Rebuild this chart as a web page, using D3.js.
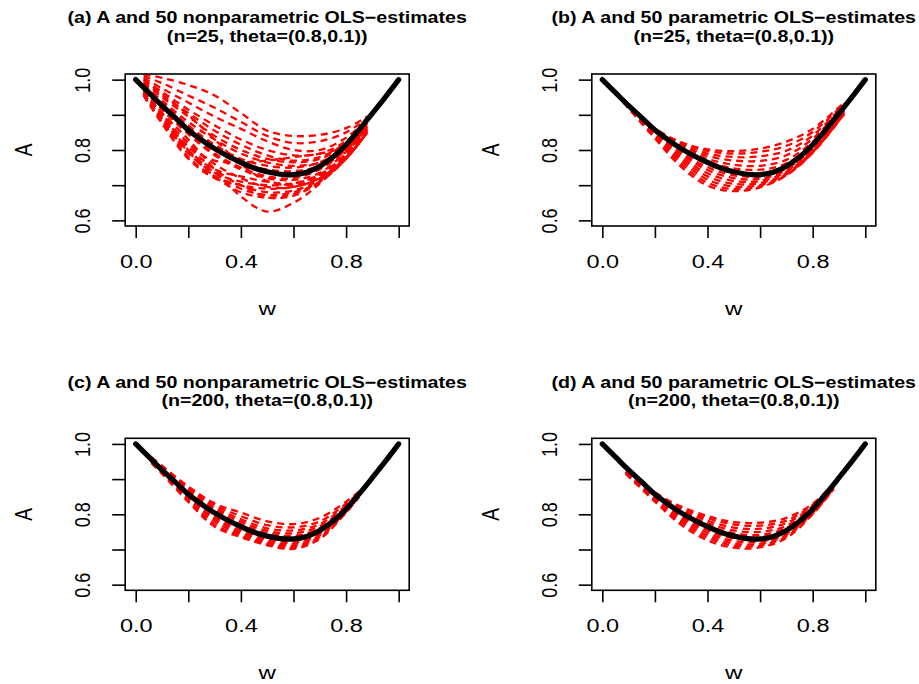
<!DOCTYPE html>
<html><head><meta charset="utf-8">
<script src="https://cdn.jsdelivr.net/npm/d3@7"></script>
<style>
body{margin:0;background:#fff}
svg{display:block}
text{font-family:"Liberation Sans",Arial,Helvetica,sans-serif;fill:#000}
</style>
</head><body>
<svg id="chart" width="919" height="684"></svg>
<script>
// ---------- data ----------
const titleLine1 = [
  "(a) A and 50 nonparametric OLS\u2212estimates",
  "(b) A and 50 parametric OLS\u2212estimates",
  "(c) A and 50 nonparametric OLS\u2212estimates",
  "(d) A and 50 parametric OLS\u2212estimates"
];
const titleLine2 = [
  "(n=25, theta=(0.8,0.1))",
  "(n=25, theta=(0.8,0.1))",
  "(n=200, theta=(0.8,0.1))",
  "(n=200, theta=(0.8,0.1))"
];
const xTicks = [0, 0.2, 0.4, 0.6, 0.8, 1.0];
const xTickLabels = ["0.0", "", "0.4", "", "0.8", ""];
const yTicks = [0.6, 0.7, 0.8, 0.9, 1.0];
const yTickLabels = ["0.6", "", "0.8", "", "1.0"];

// true A(w)
const wTrue = [0,0.05,0.1,0.15,0.2,0.25,0.3,0.35,0.4,0.45,0.5,0.55,0.6,0.65,0.7,0.75,0.8,0.85,0.9,0.95,1.0];
const aTrue = [1.0,0.963,0.926,0.892,0.857,0.829,0.804,0.783,0.765,0.749,0.738,0.731,0.730,0.737,0.754,0.780,0.815,0.858,0.904,0.951,1.0];

// (a) nonparametric, n=25
const wGridA = [0.03,0.1,0.2,0.3,0.4,0.5,0.6,0.7,0.8,0.88];
const curvesA = [
  [1.015,1.005,0.985,0.955,0.905,0.855,0.840,0.843,0.862,0.895],
  [1.010,0.990,0.955,0.920,0.880,0.840,0.820,0.825,0.850,0.890],
  [1.005,0.975,0.935,0.895,0.860,0.825,0.800,0.800,0.835,0.885],
  [1.000,0.960,0.900,0.830,0.760,0.712,0.700,0.725,0.785,0.860],
  [1.000,0.965,0.915,0.870,0.830,0.800,0.785,0.790,0.825,0.880],
  [0.995,0.955,0.905,0.855,0.815,0.785,0.770,0.780,0.820,0.875],
  [0.990,0.950,0.895,0.840,0.800,0.775,0.765,0.775,0.815,0.870],
  [0.985,0.940,0.880,0.830,0.790,0.765,0.755,0.765,0.810,0.870],
  [0.985,0.935,0.870,0.815,0.775,0.755,0.750,0.765,0.810,0.870],
  [0.980,0.930,0.865,0.805,0.765,0.745,0.740,0.755,0.805,0.865],
  [0.980,0.925,0.855,0.800,0.760,0.735,0.730,0.750,0.800,0.865],
  [0.960,0.890,0.810,0.770,0.765,0.770,0.780,0.790,0.810,0.860],
  [0.975,0.920,0.850,0.790,0.750,0.725,0.720,0.745,0.800,0.860],
  [0.975,0.915,0.845,0.785,0.745,0.720,0.715,0.735,0.795,0.860],
  [0.970,0.905,0.800,0.745,0.725,0.710,0.705,0.730,0.790,0.860],
  [0.965,0.895,0.790,0.735,0.710,0.700,0.705,0.730,0.785,0.855],
  [0.965,0.900,0.820,0.760,0.720,0.695,0.695,0.720,0.780,0.855],
  [0.960,0.885,0.780,0.725,0.700,0.690,0.695,0.720,0.780,0.850],
  [0.960,0.890,0.810,0.745,0.700,0.680,0.685,0.715,0.775,0.850],
  [0.960,0.885,0.800,0.735,0.690,0.672,0.680,0.710,0.775,0.850],
  [0.955,0.880,0.795,0.725,0.680,0.665,0.675,0.710,0.775,0.850],
  [0.955,0.875,0.775,0.720,0.700,0.665,0.670,0.710,0.775,0.850],
  [0.965,0.905,0.830,0.745,0.668,0.625,0.650,0.705,0.780,0.850]
];

// (b) parametric, n=25
const wGridB = [0.08,0.2,0.3,0.4,0.5,0.6,0.7,0.8,0.92];
const curvesB = [
  [0.935,0.833,0.752,0.699,0.683,0.694,0.728,0.793,0.905],
  [0.936,0.838,0.760,0.707,0.689,0.697,0.729,0.792,0.903],
  [0.937,0.842,0.768,0.716,0.696,0.701,0.731,0.793,0.903],
  [0.938,0.845,0.775,0.725,0.704,0.706,0.734,0.795,0.904],
  [0.939,0.848,0.781,0.734,0.712,0.712,0.738,0.797,0.905],
  [0.940,0.851,0.788,0.743,0.720,0.718,0.742,0.800,0.907],
  [0.941,0.853,0.793,0.751,0.728,0.725,0.747,0.804,0.910],
  [0.942,0.855,0.798,0.759,0.738,0.734,0.754,0.810,0.913],
  [0.942,0.857,0.803,0.767,0.748,0.744,0.762,0.816,0.917],
  [0.943,0.858,0.807,0.775,0.758,0.755,0.772,0.823,0.921],
  [0.944,0.859,0.811,0.783,0.770,0.769,0.785,0.832,0.925],
  [0.944,0.860,0.815,0.790,0.780,0.782,0.798,0.841,0.929],
  [0.945,0.861,0.819,0.797,0.790,0.795,0.812,0.851,0.932],
  [0.945,0.862,0.822,0.802,0.797,0.804,0.824,0.860,0.935]
];

// (c) nonparametric, n=200
const wGridC = [0.06,0.1,0.2,0.3,0.4,0.5,0.6,0.7,0.8,0.85];
const curvesC = [
  [0.945,0.915,0.835,0.765,0.735,0.712,0.702,0.730,0.805,0.850],
  [0.948,0.918,0.840,0.772,0.738,0.715,0.706,0.733,0.806,0.851],
  [0.950,0.920,0.845,0.780,0.742,0.718,0.710,0.736,0.807,0.852],
  [0.952,0.922,0.850,0.786,0.748,0.722,0.715,0.740,0.808,0.853],
  [0.953,0.924,0.853,0.792,0.753,0.727,0.720,0.744,0.810,0.854],
  [0.955,0.926,0.857,0.798,0.760,0.733,0.726,0.749,0.812,0.855],
  [0.956,0.928,0.860,0.803,0.766,0.739,0.732,0.754,0.815,0.856],
  [0.957,0.930,0.864,0.808,0.772,0.746,0.739,0.760,0.818,0.857],
  [0.958,0.932,0.868,0.814,0.779,0.753,0.746,0.766,0.821,0.858],
  [0.960,0.934,0.872,0.820,0.786,0.760,0.754,0.772,0.825,0.860],
  [0.961,0.936,0.876,0.826,0.795,0.769,0.763,0.780,0.830,0.862],
  [0.962,0.938,0.879,0.831,0.805,0.780,0.772,0.790,0.836,0.865]
];

// (d) parametric, n=200
const wGridD = [0.09,0.2,0.3,0.4,0.5,0.6,0.7,0.8,0.88];
const curvesD = [
  [0.915,0.836,0.770,0.726,0.705,0.706,0.733,0.800,0.872],
  [0.916,0.840,0.777,0.733,0.711,0.711,0.737,0.802,0.873],
  [0.917,0.843,0.783,0.740,0.717,0.716,0.741,0.804,0.874],
  [0.918,0.846,0.789,0.747,0.724,0.722,0.745,0.806,0.876],
  [0.918,0.849,0.794,0.754,0.731,0.728,0.750,0.809,0.877],
  [0.919,0.851,0.799,0.761,0.738,0.735,0.755,0.812,0.879],
  [0.920,0.854,0.804,0.768,0.746,0.742,0.761,0.815,0.881],
  [0.920,0.856,0.809,0.775,0.754,0.750,0.767,0.819,0.883],
  [0.921,0.858,0.814,0.782,0.762,0.759,0.775,0.823,0.885],
  [0.921,0.860,0.818,0.789,0.771,0.768,0.782,0.827,0.887],
  [0.922,0.862,0.822,0.795,0.778,0.776,0.790,0.830,0.888]
];

// ---------- drawing ----------
const panels = [
  {grid: wGridA, curves: curvesA, col: 0, row: 0},
  {grid: wGridB, curves: curvesB, col: 1, row: 0},
  {grid: wGridC, curves: curvesC, col: 0, row: 1},
  {grid: wGridD, curves: curvesD, col: 1, row: 1}
];

const SX = 1.27;             // horizontal stretch of the text
const svg = d3.select("#chart");
svg.append("rect").attr("width", 919).attr("height", 684).attr("fill", "#fff");

panels.forEach((p, i) => {
  const ox = p.col * 466.6, oy = p.row * 364.3;
  const left = 125.2 + ox, right = 409.2 + ox, top = 74 + oy, bottom = 226 + oy;
  const x = d3.scaleLinear().domain([-0.04, 1.04]).range([left, right]);
  const y = d3.scaleLinear().domain([0.584, 1.016]).range([bottom, top]);
  const g = svg.append("g");

  const clipId = "clip" + i;
  g.append("clipPath").attr("id", clipId)
    .append("rect").attr("x", left).attr("y", top)
    .attr("width", right - left).attr("height", bottom - top);

  const line = d3.line()
    .x(d => x(d[0])).y(d => y(d[1]))
    .curve(d3.curveCatmullRom.alpha(0.5));

  const plot = g.append("g").attr("clip-path", `url(#${clipId})`);
  plot.selectAll("path.est").data(p.curves).join("path")
    .attr("class", "est")
    .attr("d", c => line(c.map((v, k) => [p.grid[k], v])))
    .attr("fill", "none").attr("stroke", "#ff0000")
    .attr("stroke-width", 2.3).attr("stroke-dasharray", "7,5");

  plot.append("path")
    .attr("d", line(wTrue.map((w, k) => [w, aTrue[k]])))
    .attr("fill", "none").attr("stroke", "#000")
    .attr("stroke-width", 5.2).attr("stroke-linecap", "round").attr("stroke-linejoin", "round");

  // box
  g.append("rect").attr("x", left).attr("y", top)
    .attr("width", right - left).attr("height", bottom - top)
    .attr("fill", "none").attr("stroke", "#000").attr("stroke-width", 1.6);

  // x axis
  const xa = g.append("g").attr("transform", `translate(0,${bottom})`)
    .call(d3.axisBottom(x).tickValues(xTicks).tickSize(12).tickSizeOuter(0)
      .tickFormat((d, k) => xTickLabels[k]));
  xa.select(".domain").remove();
  xa.selectAll(".tick line").attr("stroke", "#000").attr("stroke-width", 1.6);
  xa.selectAll(".tick text")
    .attr("y", null).attr("dy", null)
    .attr("transform", `translate(0,42) scale(${SX},1)`)
    .attr("font-size", 18.5).attr("fill", "#000")
    .style("font-family", '"Liberation Sans",Arial,sans-serif');

  // y axis
  const ya = g.append("g").attr("transform", `translate(${left},0)`)
    .call(d3.axisLeft(y).tickValues(yTicks).tickSize(13).tickSizeOuter(0)
      .tickFormat((d, k) => yTickLabels[k]));
  ya.select(".domain").remove();
  ya.selectAll(".tick line").attr("stroke", "#000").attr("stroke-width", 1.6);
  ya.selectAll(".tick text")
    .attr("x", null).attr("dy", null)
    .attr("text-anchor", "middle")
    .attr("transform", `translate(-35,0) scale(${SX},1) rotate(-90)`)
    .attr("font-size", 18).attr("fill", "#000")
    .style("font-family", '"Liberation Sans",Arial,sans-serif');

  // axis titles
  const cx = (left + right) / 2, cy = (top + bottom) / 2;
  g.append("text").text("w")
    .attr("text-anchor", "middle").attr("font-size", 19)
    .attr("transform", `translate(${cx},${315 + oy}) scale(${SX},1)`);
  g.append("text").text("A")
    .attr("text-anchor", "middle").attr("font-size", 19)
    .attr("transform", `translate(${32 + ox},${cy}) scale(${SX},1) rotate(-90)`);

  // titles
  g.append("text").text(titleLine1[i])
    .attr("text-anchor", "middle").attr("font-size", 16.5).attr("font-weight", "bold")
    .attr("transform", `translate(${cx},${23.2 + oy}) scale(1.19,1)`);
  g.append("text").text(titleLine2[i])
    .attr("text-anchor", "middle").attr("font-size", 16.5).attr("font-weight", "bold")
    .attr("transform", `translate(${cx},${41.5 + oy}) scale(1.19,1)`);
});
</script>
</body></html>
